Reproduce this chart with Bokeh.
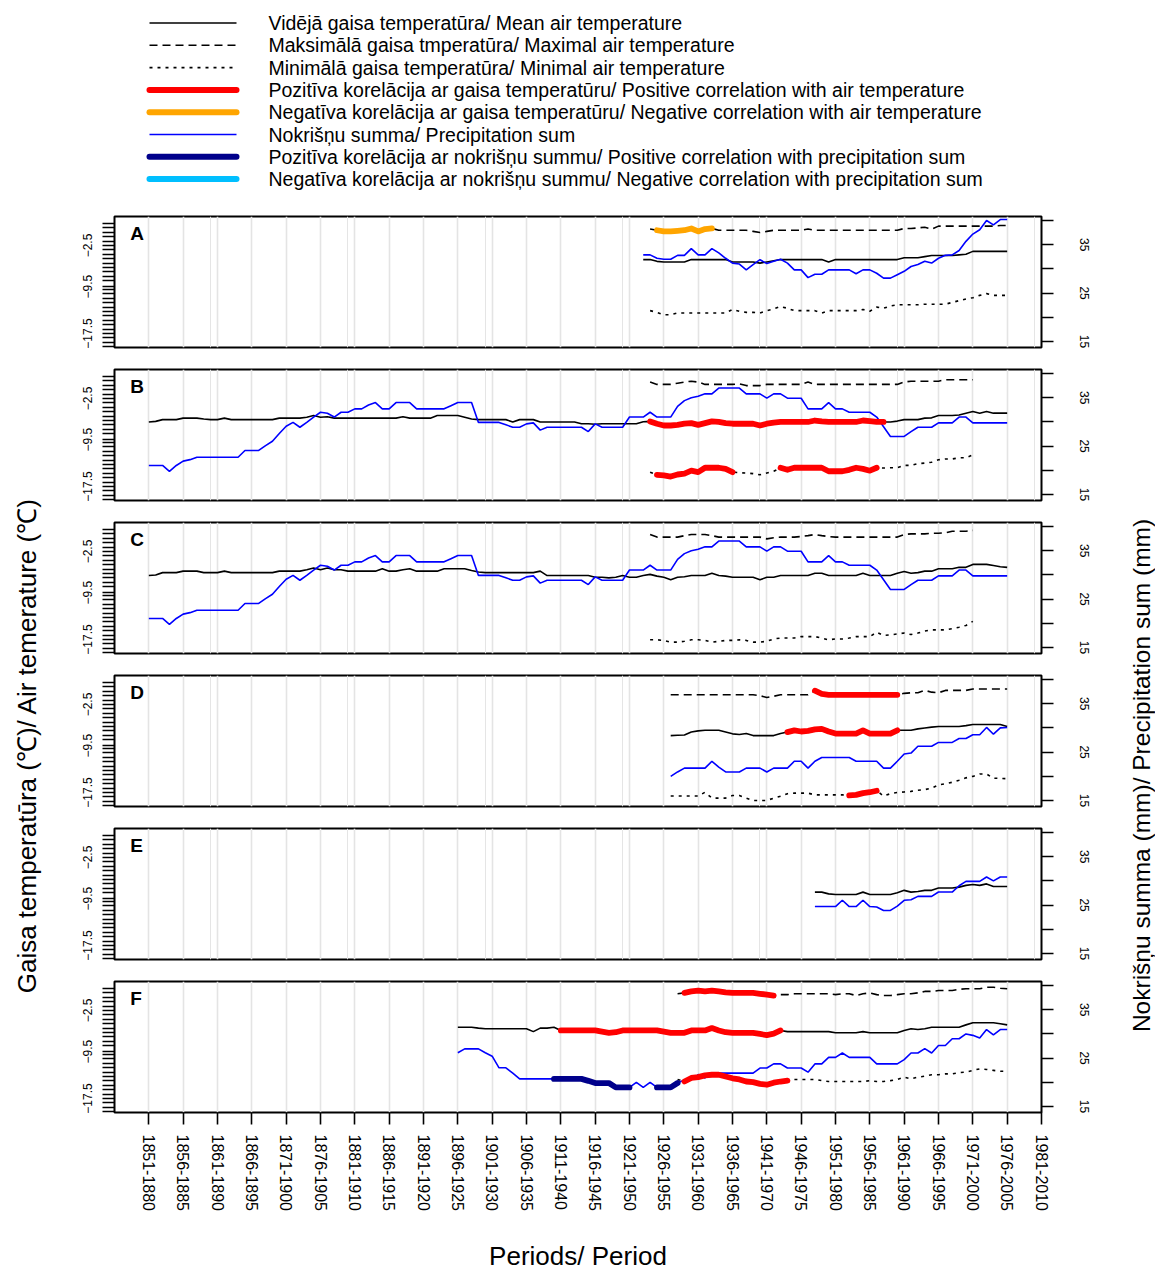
from bokeh.plotting import figure
from bokeh.layouts import column, row
from bokeh.models import Range1d, LinearAxis, FixedTicker, Grid, Label
from bokeh.core.properties import value
from bokeh.embed import file_html
from bokeh.resources import INLINE

FONT = "Liberation Sans"

period_labels = ["1851-1880", "1856-1885", "1861-1890", "1866-1895", "1871-1900", "1876-1905",
                 "1881-1910", "1886-1915", "1891-1920", "1896-1925", "1901-1930", "1906-1935",
                 "1911-1940", "1916-1945", "1921-1950", "1926-1955", "1931-1960", "1936-1965",
                 "1941-1970", "1946-1975", "1951-1980", "1956-1985", "1961-1990", "1966-1995",
                 "1971-2000", "1976-2005", "1981-2010"]
period_starts = [int(s.split("-")[0]) for s in period_labels]

temp_tick_labels = [-17.5, -9.5, -2.5]
prec_tick_labels = [15, 25, 35]
prec_minor_ticks = [20, 30, 40]

# ---------------- Panel A ----------------
A_mean_start = 1923
A_mean = [-4.9, -4.9, -5.2, -5.3, -5.3, -5.3, -5.3, -4.9, -4.9, -4.9, -4.9, -4.9, -4.9,
          -5.3, -5.3, -5.3, -5.3, -5.5, -5.3, -5.1, -4.9,
          -4.9, -4.9, -4.9, -4.9, -4.9, -4.9,
          -5.3,
          -4.9, -4.9, -4.9, -4.9, -4.9, -4.9, -4.9, -4.9, -4.9, -4.9,
          -4.6, -4.6, -4.6, -4.4, -4.2, -4.2, -4.2, -4.2, -4.1, -4.0,
          -3.5, -3.5, -3.5, -3.5, -3.5, -3.5]
A_max_start = 1924
A_max = [0.3, 0.1, -0.1, -0.1, 0.0, 0.1, 0.4, -0.1, 0.3, 0.4, 0.1,
         0.1, 0.1, 0.1, 0.1, -0.1,
         -0.3, -0.1,
         0.1, 0.1, 0.1, 0.1, 0.1,
         0.3,
         0.1, 0.1, 0.1, 0.1, 0.1, 0.1, 0.1, 0.1, 0.1, 0.1, 0.1, 0.1, 0.1,
         0.4, 0.4, 0.5, 0.6, 0.3,
         0.8, 0.8, 0.8, 0.8, 0.8, 0.8, 0.8, 0.8, 0.8, 0.9, 0.9]
A_min_start = 1924
A_min = [-13.6, -13.9, -14.3, -14.3, -14.0,
         -14.0, -14.0, -14.0, -14.0, -14.0, -14.0, -14.0,
         -13.4, -13.7, -13.9, -13.9, -14.0, -13.6, -13.3, -12.9, -13.2, -13.6, -13.6, -13.6, -13.6,
         -14.0,
         -13.6, -13.6, -13.6, -13.6, -13.6,
         -13.4, -13.7, -13.0, -13.2, -12.8,
         -12.6, -12.6, -12.6, -12.6,
         -12.5, -12.5, -12.5, -12.5,
         -12.2, -11.9, -11.6, -11.4, -11.0, -10.7,
         -11.0, -11.0, -11.0]
A_prec_start = 1923
A_prec = [32.9, 32.9, 32.2, 32.0, 32.0, 32.8, 32.8, 34.2, 32.9, 32.9,
          34.2, 33.3, 32.2, 31.2, 31.0, 29.8, 30.9, 31.9, 31.1, 31.6,
          32.0, 31.2, 29.8, 29.8, 28.2, 28.9, 28.9, 29.8, 29.8, 29.8,
          29.8, 29.0, 29.8, 29.8, 29.1, 28.1, 28.1, 28.8, 29.5, 30.5,
          30.9, 31.6, 31.2, 32.2, 32.8, 32.9, 33.8, 35.7, 37.2, 38.1,
          40.0, 39.1, 40.2, 40.2]
A_marks = [("max", 1925, 1933, "neg_t")]

# ---------------- Panel B ----------------
B_mean_start = 1851
B_mean = [-6.5, -6.4, -6.1, -6.1, -6.1, -5.85, -5.85, -5.85, -6.0, -6.1,
          -6.1, -5.85, -6.1, -6.1, -6.1, -6.1, -6.1, -6.1, -6.1, -5.85,
          -5.85, -5.85, -5.85, -5.7, -5.4, -5.7, -5.6, -5.85, -5.85, -5.85,
          -5.85, -5.85, -5.85, -5.85, -5.85, -5.85, -5.85, -5.6, -5.85, -5.85,
          -5.85, -5.85, -5.4, -5.4, -5.4, -5.4, -5.7, -6.0, -6.1, -6.1,
          -6.1, -6.1, -6.1, -6.5, -6.1, -6.1, -6.1, -6.5, -6.5, -6.5,
          -6.5, -6.5, -6.5, -6.8, -6.8, -6.9, -6.8, -6.8, -6.8, -6.8,
          -6.8, -6.8, -6.45, -6.4, -6.8, -7.1, -7.1, -7.0, -6.8, -6.7,
          -7.0, -6.7, -6.4, -6.5, -6.7, -6.8, -6.8, -6.8, -6.8, -7.1,
          -6.8, -6.6, -6.5, -6.5, -6.5, -6.5, -6.5, -6.25, -6.4, -6.5,
          -6.5, -6.5, -6.5, -6.5, -6.25, -6.35, -6.5, -6.5, -6.5, -6.35,
          -6.1, -6.1, -6.1, -5.85, -5.8, -5.4, -5.4, -5.4, -5.3, -5.0,
          -4.7, -5.0, -4.7, -5.0, -5.0, -5.0]
B_max_start = 1924
B_max = [0.3, -0.1, -0.1, -0.1, 0.1, 0.3, 0.45, 0.3, -0.1,
         -0.1, -0.1, -0.1, -0.1,
         0.0,
         -0.3, -0.3, -0.3,
         -0.1, -0.1, -0.1, -0.1, -0.1, -0.1,
         0.3,
         -0.1, -0.1, -0.1, -0.1, -0.1, -0.1, -0.1, -0.1, -0.1, -0.1, -0.1, -0.1, -0.1,
         0.3,
         0.45, 0.45, 0.45, 0.45, 0.45,
         0.7, 0.7, 0.7, 0.7, 0.7]
B_min_start = 1924
B_min = [-15.05,
         -15.5, -15.6, -15.8, -15.45, -15.3, -14.8, -15.05, -14.3, -14.3, -14.3, -14.5, -15.05,
         -15.15, -15.2, -15.3, -15.5, -15.2, -14.9,
         -14.3, -14.65, -14.3, -14.3, -14.3, -14.3, -14.3,
         -14.9, -14.9, -14.9, -14.65, -14.3, -14.5, -14.8, -14.3,
         -14.35, -14.3, -14.3, -13.9, -13.9, -13.6, -13.5,
         -13.35, -12.95, -12.8, -12.8, -12.6, -12.6, -12.1]
BC_prec_start = 1851
BC_prec = [21.0, 21.0, 21.0, 19.8, 21.0, 21.9, 22.2, 22.7, 22.7, 22.7,
           22.7, 22.7, 22.7, 22.7, 24.1, 24.1, 24.1, 25.1, 26.0, 27.6,
           29.1, 29.9, 28.9, 29.9, 31.0, 32.0, 31.8, 31.0, 32.0, 32.0,
           32.7, 32.7, 33.5, 34.0, 32.7, 32.7, 34.0, 34.0, 34.0, 32.7,
           32.7, 32.7, 32.7, 32.7, 33.35, 34.0, 34.0, 34.0, 29.9, 29.9,
           29.9, 29.9, 29.4, 28.9, 28.9, 29.6, 29.8, 28.3, 28.9, 28.9,
           28.9, 28.9, 28.9, 28.9, 28.0, 29.6, 28.9, 28.9, 28.9, 28.9,
           31.0, 31.0, 31.0, 32.0, 31.0, 31.0, 31.0, 33.2, 34.4, 35.0,
           35.3, 35.8, 35.8, 37.0, 37.0, 37.0, 37.0, 35.8, 35.8, 35.8,
           34.9, 35.8, 35.8, 34.9, 34.9, 34.9, 32.7, 32.7, 32.7, 34.0,
           32.7, 32.7, 32.0, 32.0, 32.0, 32.0, 31.0, 29.0, 27.0, 27.0,
           27.0, 28.0, 28.9, 28.9, 28.9, 29.8, 29.8, 29.8, 31.0, 31.0,
           29.8, 29.8, 29.8, 29.8, 29.8, 29.8]
B_marks = [("mean", 1924, 1958, "pos_t"), ("min", 1925, 1936, "pos_t"), ("min", 1943, 1957, "pos_t")]

# ---------------- Panel C ----------------
C_mean_start = 1851
C_mean = [-6.6, -6.5, -6.1, -6.1, -6.1, -5.85, -5.85, -5.85, -6.1, -6.1,
          -6.1, -5.85, -6.1, -6.1, -6.1, -6.1, -6.1, -6.1, -6.1, -5.85,
          -5.85, -5.85, -5.85, -5.6, -5.3, -5.6, -5.3, -5.6, -5.6, -5.85,
          -5.85, -5.85, -5.85, -5.85, -5.45, -5.85, -5.85, -5.6, -5.45, -5.85,
          -5.85, -5.85, -5.85, -5.45, -5.45, -5.45, -5.45, -5.75, -6.0, -6.1,
          -6.1, -6.1, -6.1, -6.1, -6.1, -6.1, -6.1, -5.85, -6.6, -6.6,
          -6.6, -6.6, -6.6, -6.6, -6.6, -6.9, -6.9, -7.0, -6.9, -6.6,
          -6.9, -6.9, -6.6, -6.4, -6.7, -6.9, -7.3, -6.9, -6.8, -6.6,
          -6.6, -6.6, -6.2, -6.6, -6.7, -6.9, -6.9, -6.9, -6.9, -7.3,
          -6.9, -6.9, -6.6, -6.6, -6.6, -6.6, -6.6, -6.2, -6.2, -6.6,
          -6.6, -6.6, -6.6, -6.6, -6.2, -6.6, -6.6, -6.6, -6.6, -6.2,
          -5.9, -6.2, -6.1, -5.85, -5.85, -5.45, -5.45, -5.45, -5.2, -5.2,
          -4.7, -4.7, -4.7, -4.9, -5.1, -5.2]
C_max_start = 1924
C_max = [0.4, -0.05, -0.05, -0.05, -0.05, 0.2, 0.4, 0.4, 0.4, 0.2,
         -0.05, -0.05, -0.05, -0.05, -0.05, -0.05, -0.05,
         -0.35, -0.15, -0.05, -0.05, -0.05, 0.05, 0.2, 0.4, 0.2, 0.05,
         -0.05, -0.05, -0.05, -0.05, -0.05, -0.05, -0.05, -0.05, -0.05, -0.05,
         0.4, 0.5, 0.5, 0.5, 0.6, 0.6, 0.7, 0.95, 0.95, 0.95, 1.1]
C_min_start = 1924
C_min = [-17.55, -17.55, -17.65, -17.95, -17.95, -17.8, -17.55, -17.55, -17.65, -17.95,
         -17.8, -17.65, -17.65, -17.55, -17.65, -17.95, -17.95, -17.8, -17.4, -17.25,
         -17.25, -17.25, -17.0, -17.0, -17.0, -17.25, -17.55, -17.4, -17.4, -17.25,
         -17.0, -17.0, -17.0, -16.25, -16.8, -16.7, -16.55, -16.4, -16.65, -16.4,
         -16.05, -15.85, -15.85, -15.85, -15.65, -15.4, -15.1, -14.4]
C_marks = []

# ---------------- Panel D ----------------
D_start = 1927
D_mean = [-7.8, -7.75, -7.7, -7.2, -7.0, -6.9, -6.9, -6.9, -7.2, -7.5,
          -7.6, -7.45, -7.8, -7.8, -7.8, -7.8, -7.45, -7.2, -6.9, -7.1,
          -7.0, -6.75, -6.65, -7.1, -7.45, -7.45, -7.45, -7.45, -6.9, -7.45,
          -7.45, -7.45, -7.45, -6.9, -6.9, -6.9, -6.65, -6.5, -6.35, -6.25,
          -6.25, -6.25, -6.25, -6.1, -5.9, -5.9, -5.9, -5.9, -5.9, -6.25]
D_max = [-0.85, -0.85, -0.85, -0.85, -0.85, -0.85, -0.85, -0.85, -0.85, -0.85,
         -0.85, -0.85, -0.85, -1.0, -1.3, -1.1, -0.85, -0.85, -0.85, -0.85,
         -0.85, -0.15, -0.7, -0.85, -0.85, -0.85, -0.85, -0.85, -0.85, -0.85,
         -0.85, -0.85, -0.85, -0.85, -0.6, -0.5, -0.5, -0.1, -0.4, -0.5,
         -0.1, -0.1, -0.1, -0.1, 0.15, 0.15, 0.15, 0.15, 0.15, 0.15]
D_min = [-18.1, -18.1, -18.1, -18.1, -18.1, -17.45, -18.45, -18.45, -18.45, -18.0,
         -18.0, -18.45, -18.85, -18.85, -18.85, -18.45, -18.15, -17.7, -17.6, -17.6,
         -17.6, -17.9, -17.9, -17.9, -17.9, -17.9, -18.0, -17.9, -17.6, -17.45,
         -17.2, -18.1, -17.7, -17.5, -17.4, -17.3, -17.1, -17.0, -16.75, -16.2,
         -16.0, -15.75, -15.4, -15.0, -14.75, -14.35, -14.35, -15.05, -15.1, -15.15]
D_prec = [20.0, 20.9, 21.7, 21.7, 21.7, 21.7, 23.1, 21.9, 20.9, 20.9,
          20.9, 21.7, 21.7, 21.7, 20.9, 21.7, 21.7, 21.7, 23.1, 23.1,
          21.7, 23.1, 23.9, 23.9, 23.9, 23.9, 23.9, 23.1, 23.1, 23.1,
          23.1, 21.7, 21.7, 23.1, 24.6, 24.8, 26.2, 26.2, 26.2, 27.0,
          27.0, 27.0, 27.8, 27.8, 28.6, 28.6, 30.1, 28.7, 30.0, 30.1]
D_marks = [("max", 1948, 1960, "pos_t"), ("mean", 1944, 1960, "pos_t"), ("min", 1953, 1957, "pos_t")]

# ---------------- Panel E ----------------
E_start = 1948
E_mean = [-8.4, -8.4, -8.7, -8.8, -8.8, -8.8, -8.8, -8.4, -8.8, -8.8,
          -8.8, -8.8, -8.5, -8.1, -8.4, -8.3, -8.1, -8.1, -7.7, -7.7,
          -7.7, -7.55, -7.25, -7.1, -7.25, -7.0, -7.45, -7.45, -7.45]
E_prec = [24.7, 24.7, 24.7, 24.7, 26.0, 24.7, 24.7, 26.0, 24.7, 24.6,
          23.9, 23.9, 24.8, 26.0, 26.1, 26.8, 26.8, 26.8, 27.7, 27.7,
          27.7, 29.0, 29.9, 29.9, 29.9, 30.8, 30.0, 30.8, 30.8]
E_marks = []

# ---------------- Panel F ----------------
F_start = 1896
F_mean = [-5.35, -5.35, -5.35, -5.5, -5.6, -5.6, -5.6, -5.6, -5.6, -5.6,
          -5.6, -6.1, -5.5, -5.5, -5.35, -5.9, -5.9, -5.9, -5.9, -5.9,
          -5.9, -6.1, -6.3, -6.2, -5.9, -5.9, -5.9, -5.9, -5.9, -5.9,
          -6.1, -6.3, -6.3, -6.3, -5.9, -5.9, -5.9, -5.5, -5.9, -6.2,
          -6.3, -6.3, -6.3, -6.3, -6.5, -6.7, -6.45, -5.9, -6.1, -6.1,
          -6.1, -6.1, -6.1, -6.1, -6.1, -6.3, -6.3, -6.3, -6.3, -6.1,
          -6.3, -6.3, -6.3, -6.3, -6.3, -5.9, -5.6, -5.75, -5.6, -5.35,
          -5.35, -5.35, -5.35, -5.35, -4.95, -4.6, -4.6, -4.6, -4.6, -4.75,
          -4.95]
F_prec = [26.1, 26.9, 26.9, 26.9, 26.1, 25.4, 23.0, 23.0, 21.9, 20.7,
          20.7, 20.7, 20.7, 20.7, 20.7, 20.7, 20.7, 20.7, 20.7, 20.3,
          19.85, 19.85, 19.85, 18.95, 18.95, 18.95, 20.0, 18.95, 20.0, 18.95,
          18.95, 18.95, 19.85, 20.5, 20.5, 21.6, 20.9, 21.9, 21.9, 21.9,
          21.9, 21.9, 21.9, 21.9, 22.95, 22.95, 23.8, 23.8, 22.95, 22.95,
          22.95, 22.1, 23.8, 23.8, 25.15, 25.15, 26.05, 25.15, 25.15, 25.15,
          25.15, 23.8, 23.8, 23.8, 23.8, 24.7, 26.05, 26.05, 26.95, 26.05,
          27.6, 27.6, 29.0, 29.0, 30.0, 29.7, 29.15, 30.9, 29.8, 30.9,
          30.9]
F_ext_start = 1928
F_max = [0.35, 0.5, 0.75, 0.9, 0.75, 0.9, 0.75, 0.6, 0.5, 0.5,
         0.5, 0.5, 0.35, 0.2, 0.05, 0.2, 0.2, 0.35, 0.35, 0.35,
         0.35, 0.35, 0.35, 0.2, 0.35, 0.35, 0.05, 0.35, 0.5, 0.2,
         0.05, 0.05, 0.2, 0.35, 0.35, 0.5, 0.75, 0.75, 0.9, 0.9,
         0.9, 1.1, 1.2, 1.2, 1.2, 1.45, 1.45, 1.3, 1.2]
F_min = [-14.25, -14.6, -14.0, -13.85, -13.55, -13.45, -13.45, -13.75, -14.05, -14.25,
         -14.6, -14.7, -15.0, -15.15, -14.8, -14.6, -14.45, -14.25, -14.25, -14.25,
         -14.25, -14.45, -14.6, -14.6, -14.6, -14.6, -14.6, -14.6, -14.45, -14.6,
         -14.6, -14.45, -14.25, -13.85, -14.15, -13.85, -13.7, -13.45, -13.45, -13.3,
         -13.3, -13.1, -13.0, -12.7, -12.45, -12.55, -12.7, -12.85, -12.85]
F_marks = [("max", 1929, 1942, "pos_t"), ("mean", 1911, 1943, "pos_t"), ("min", 1929, 1944, "pos_t"),
           ("prec", 1910, 1921, "pos_p"), ("prec", 1925, 1928, "pos_p")]

legend_labels = [
    "Vidējā gaisa temperatūra/ Mean air temperature",
    "Maksimālā gaisa tmperatūra/ Maximal air temperature",
    "Minimālā gaisa temperatūra/ Minimal air temperature",
    "Pozitīva korelācija ar gaisa temperatūru/ Positive correlation with air temperature",
    "Negatīva korelācija ar gaisa temperatūru/ Negative correlation with air temperature",
    "Nokrišņu summa/ Precipitation sum",
    "Pozitīva korelācija ar nokrišņu summu/ Positive correlation with precipitation sum",
    "Negatīva korelācija ar nokrišņu summu/ Negative correlation with precipitation sum",
]

# ---------------- styling ----------------
MARK_COLORS = {"pos_t": "#FF0000", "neg_t": "#FFA500", "pos_p": "#00008B", "neg_p": "#00BFFF"}
DASH = {"max": "8 5", "mean": "solid", "min": "3 5"}
T_RANGE = (-19.88, 2.44)
P_RANGE = (13.76, 40.83)
X_RANGE = (1846, 1981)
THIN = 1.6
THICK = 5.8

minor_temp = [round(-19.75 + 0.75 * k, 2) for k in range(29)]
minor_temp = [t for t in minor_temp if min(abs(t - m) for m in temp_tick_labels) > 0.4]


def years(start, vals):
    return list(range(start, start + len(vals)))


def subset(start, vals, a, b):
    xs, ys = [], []
    for x, v in zip(years(start, vals), vals):
        if a <= x <= b:
            xs.append(x)
            ys.append(v)
    return xs, ys


def style_vaxis(ax, standoff):
    ax.axis_line_color = None
    ax.major_tick_in = 0
    ax.minor_tick_in = 0
    ax.major_tick_out = 12
    ax.minor_tick_out = 12
    ax.major_tick_line_width = 1.6
    ax.minor_tick_line_width = 1.6
    ax.major_tick_line_color = "black"
    ax.minor_tick_line_color = "black"
    ax.major_label_orientation = "vertical"
    ax.major_label_text_font = FONT
    ax.major_label_text_font_size = "12px"
    ax.major_label_text_color = "black"
    ax.major_label_standoff = standoff


def make_panel(letter, series, marks, bottom=False):
    h = 304 if bottom else 153
    p = figure(width=1060, height=h, x_range=Range1d(*X_RANGE), y_range=Range1d(*T_RANGE),
               output_backend="svg", toolbar_location=None,
               x_axis_location="below" if bottom else None, y_axis_location="left",
               min_border_left=69, min_border_right=64, min_border_top=11,
               min_border_bottom=162 if bottom else 11)
    p.outline_line_color = "black"
    p.outline_line_width = 2
    p.background_fill_color = "white"
    p.ygrid.visible = False
    if bottom:
        p.xgrid.visible = False
    p.add_layout(Grid(dimension=0, ticker=FixedTicker(ticks=period_starts),
                      grid_line_color="#E4E4E4", grid_line_width=1.6))
    p.extra_y_ranges = {"prec": Range1d(*P_RANGE)}

    ya = p.yaxis[0]
    ya.ticker = FixedTicker(ticks=temp_tick_labels, minor_ticks=minor_temp)
    style_vaxis(ya, 10)

    ra = LinearAxis(y_range_name="prec",
                    ticker=FixedTicker(ticks=prec_tick_labels, minor_ticks=prec_minor_ticks))
    style_vaxis(ra, 26)
    p.add_layout(ra, "right")

    if bottom:
        xa = p.xaxis[0]
        xa.ticker = FixedTicker(ticks=period_starts)
        xa.major_label_overrides = {s: lab for s, lab in zip(period_starts, period_labels)}
        xa.axis_line_color = None
        xa.major_tick_in = 0
        xa.major_tick_out = 12
        xa.minor_tick_out = 0
        xa.minor_tick_in = 0
        xa.major_tick_line_width = 1.6
        xa.major_tick_line_color = "black"
        xa.major_label_orientation = "vertical"
        xa.major_label_text_font = FONT
        xa.major_label_text_font_size = "16px"
        xa.major_label_text_color = "black"
        xa.major_label_standoff = 10
        xa.axis_label = "Periods/ Period"
        xa.axis_label_text_font = FONT
        xa.axis_label_text_font_size = "26px"
        xa.axis_label_text_font_style = "normal"
        xa.axis_label_text_color = "black"
        xa.axis_label_standoff = 27

    for key in ("max", "mean", "min"):
        if key in series:
            st, vals = series[key]
            p.line(years(st, vals), vals, line_color="black", line_width=THIN,
                   line_dash=DASH[key])
    if "prec" in series:
        st, vals = series["prec"]
        p.line(years(st, vals), vals, line_color="#0000FF", line_width=THIN, y_range_name="prec")

    for key, a, b, kind in marks:
        st, vals = series[key]
        xs, ys = subset(st, vals, a, b)
        kw = {"y_range_name": "prec"} if key == "prec" else {}
        p.line(xs, ys, line_color=MARK_COLORS[kind], line_width=THICK,
               line_cap="round", line_join="round", **kw)

    p.add_layout(Label(x=X_RANGE[0] + 2.3, y=T_RANGE[1] - 1.1, text=letter,
                       text_font=FONT, text_font_size="19px", text_font_style="bold",
                       text_baseline="top", text_align="left", text_color="black"))
    return p


# ---------------- legend (own figure; its frame is aligned with the panels' frames) ----------------
LEG_H = 205
leg_fig = figure(width=1060, height=LEG_H, x_range=Range1d(114, 1041), y_range=Range1d(LEG_H, 0),
                 toolbar_location=None, output_backend="svg",
                 x_axis_location=None, y_axis_location=None,
                 min_border_left=69, min_border_right=64, min_border_top=0, min_border_bottom=0)
leg_fig.outline_line_color = None
leg_fig.grid.visible = False
leg_styles = [
    dict(line_color="black", line_width=THIN),
    dict(line_color="black", line_width=THIN, line_dash="8 5"),
    dict(line_color="black", line_width=THIN, line_dash="3 5"),
    dict(line_color=MARK_COLORS["pos_t"], line_width=6, line_cap="round"),
    dict(line_color=MARK_COLORS["neg_t"], line_width=6, line_cap="round"),
    dict(line_color="#0000FF", line_width=THIN),
    dict(line_color=MARK_COLORS["pos_p"], line_width=6, line_cap="round"),
    dict(line_color=MARK_COLORS["neg_p"], line_width=6, line_cap="round"),
]
LEG_X0, LEG_GLYPH_W, LEG_STANDOFF = 149, 87, 32
LEG_Y0, LEG_PITCH = 22.5, 22.3
for i, (lab, sty) in enumerate(zip(legend_labels, leg_styles)):
    yy = LEG_Y0 + LEG_PITCH * i
    leg_fig.line([LEG_X0, LEG_X0 + LEG_GLYPH_W], [yy, yy], **sty)
    leg_fig.text(x=[LEG_X0 + LEG_GLYPH_W + LEG_STANDOFF], y=[yy], text=[lab],
                 text_font=value(FONT), text_font_size=value("19.5px"),
                 text_baseline="middle", text_align="left", text_color="black")

# ---------------- panels ----------------
pA = make_panel("A", {"mean": (A_mean_start, A_mean), "max": (A_max_start, A_max),
                      "min": (A_min_start, A_min), "prec": (A_prec_start, A_prec)}, A_marks)
pB = make_panel("B", {"mean": (B_mean_start, B_mean), "max": (B_max_start, B_max),
                      "min": (B_min_start, B_min), "prec": (BC_prec_start, BC_prec)}, B_marks)
pC = make_panel("C", {"mean": (C_mean_start, C_mean), "max": (C_max_start, C_max),
                      "min": (C_min_start, C_min), "prec": (BC_prec_start, BC_prec)}, C_marks)
pD = make_panel("D", {"mean": (D_start, D_mean), "max": (D_start, D_max),
                      "min": (D_start, D_min), "prec": (D_start, D_prec)}, D_marks)
pE = make_panel("E", {"mean": (E_start, E_mean), "prec": (E_start, E_prec)}, E_marks)
pF = make_panel("F", {"mean": (F_start, F_mean), "max": (F_ext_start, F_max),
                      "min": (F_ext_start, F_min), "prec": (F_start, F_prec)}, F_marks, bottom=True)


# Side titles: both figures share the same frame (rows align frames), the label is
# anchored at the frame's top ("end") or bottom ("start") edge.
TITLE_TOP, TITLE_BOTTOM = 745, 1274 - 775


def title_fig(width, text, align, size, standoff):
    f = figure(width=width, height=1274, x_range=Range1d(0, 1), y_range=Range1d(0, 1),
               toolbar_location=None, output_backend="svg",
               x_axis_location=None, y_axis_location="left",
               min_border_left=width - 1, min_border_right=0,
               min_border_top=TITLE_TOP, min_border_bottom=TITLE_BOTTOM)
    f.outline_line_color = None
    f.grid.visible = False
    ax = f.yaxis[0]
    ax.ticker = FixedTicker(ticks=[])
    ax.axis_line_color = None
    ax.major_tick_out = 0
    ax.minor_tick_out = 0
    ax.major_tick_in = 0
    ax.minor_tick_in = 0
    ax.axis_label = text
    ax.axis_label_align = align
    ax.axis_label_text_font = FONT
    ax.axis_label_text_font_size = size
    ax.axis_label_text_font_style = "normal"
    ax.axis_label_text_color = "black"
    ax.axis_label_standoff = standoff
    return f


left_fig = title_fig(45, "Gaisa temperatūra (℃)/ Air temerature (℃)", "end", "26px", 3)
right_fig = title_fig(50, "Nokrišņu summa (mm)/ Precipitation sum (mm)", "start", "24.5px", 0)

layout = row(left_fig, column(leg_fig, pA, pB, pC, pD, pE, pF), right_fig)

open("out.html", "w").write(file_html(layout, INLINE))
